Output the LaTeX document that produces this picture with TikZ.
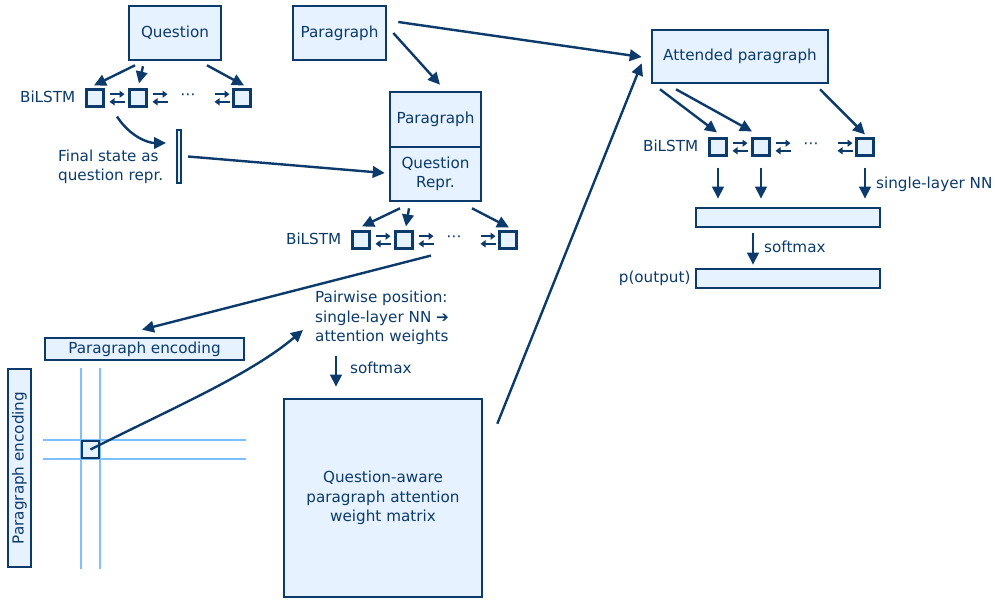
\documentclass[tikz,border=0pt]{standalone}
\usepackage{fontspec}
\setmainfont{DejaVu Sans}
\usetikzlibrary{arrows.meta,calc}
\definecolor{navy}{HTML}{0B3A6B}
\definecolor{lfill}{HTML}{E6F2FF}
\definecolor{lblue}{HTML}{80BFFF}
\tikzset{
  lrarr/.pic={
    \draw[navy, line width=2pt, -{Triangle[length=5pt,width=7pt]}] (-7.5,-3.8) -- (7.5,-3.8);
    \draw[navy, line width=2pt, -{Triangle[length=5pt,width=7pt]}] (7.5,3.8) -- (-7.5,3.8);
  }
}
\newcommand\lstmrow[3]{%
  \node[cell] (#1a) at (#2,#3) {};
  \node[cell] (#1b) at (#2+43,#3) {};
  \node[cell] (#1c) at (#2+147,#3) {};
  \pic at (#2+22,#3) {lrarr};
  \pic at (#2+65,#3) {lrarr};
  \pic at (#2+127,#3) {lrarr};
  \node[lab] (#1d) at (#2+93,#3-1) {⋯};
  \node[lab1, anchor=east] (#1l) at ($(#1a.west)+(-10,0)$) {BiLSTM};
}
\begin{document}
\begin{tikzpicture}[x=1pt,y=-1pt,
  font=\fontsize{15.2}{19.5}\selectfont, text=navy,
  box/.style={draw=navy, fill=lfill, line width=2.6pt, inner sep=0pt, text=navy},
  cell/.style={box, minimum size=16.5pt},
  arr/.style={draw=navy, line width=2.4pt, -{Triangle[length=12pt,width=11.5pt]}},
  lab/.style={inner sep=0pt, text=navy},
  lab1/.style={lab, text height=11pt, text depth=3pt},
  gridl/.style={draw=lblue, line width=2.3pt}]
\useasboundingbox (0,0) rectangle (995,600);

% ---- top boxes
\node[box, minimum width=92pt, minimum height=54pt] (q) at (175,33) {Question};
\node[box, minimum width=93pt, minimum height=54pt] (p) at (339.5,33) {Paragraph};
\node[box, minimum width=176pt, minimum height=53pt] (att) at (740,56.5) {Attended paragraph};
\node[box, minimum width=91pt, minimum height=55pt] (p2) at (435.5,119.5) {Paragraph};
\node[box, minimum width=91pt, minimum height=54pt, align=center] (qr) at (435.5,174) {Question\\Repr.};

% ---- BiLSTM rows
\lstmrow{l}{95}{98}
\lstmrow{m}{361}{240}
\lstmrow{r}{718}{147}

% ---- final state
\node[box, line width=2pt, minimum width=4pt, minimum height=53pt] (fin) at (179,156.5) {};
\node[lab, align=left, anchor=west] (fint) at (58,167) {Final state as\\question repr.};

% ---- grid
\draw[gridl] (81,368) -- (81,569);
\draw[gridl] (100,368) -- (100,569);
\draw[gridl] (43,440) -- (246,440);
\draw[gridl] (43,459) -- (246,459);
\node[draw=navy, fill=lfill, line width=2.4pt, minimum size=17pt, inner sep=0pt] (cellq) at (90.5,449.5) {};
\node[box, minimum width=199pt, minimum height=22pt] (enc) at (144.5,349) {Paragraph encoding};
\node[box, minimum width=198pt, minimum height=23pt, rotate=90] (enc2) at (19.5,468) {Paragraph encoding};

% ---- matrix
\node[lab, align=left, anchor=west] (pw) at (315,318) {Pairwise position:\\single-layer NN ➔\\attention weights};
\node[lab1, anchor=west] (smx) at (350,369) {softmax};
\node[box, minimum width=198pt, minimum height=198pt, align=center] (mat) at (383,498) {Question-aware\\paragraph attention\\weight matrix};

% ---- right side
\node[box, minimum width=184pt, minimum height=19pt] (b1) at (788,217.5) {};
\node[box, minimum width=184pt, minimum height=19pt] (b2) at (788,278.5) {};
\node[lab1, anchor=west] (snn) at (876,184) {single-layer NN};
\node[lab1, anchor=west] (smx2) at (764,248) {softmax};
\node[lab1, anchor=east] (pout) at ($(b2.west)+(-4,0)$) {p(output)};

% ---- connectors
\draw[arr] ($(q.south)+(-40,4)$) -- ($(la.north)+(-1,-3)$);
\draw[arr] ($(q.south)+(-32,5)$) -- ($(lb.north)+(1,-5)$);
\draw[arr] ($(q.south)+(32,4)$) -- ($(lc.north)+(2,-3)$);
\draw[arr] ($(la.south)+(22,9)$) .. controls +(13,20) and +(-18,0) .. ($(fin.west)+(-10,-13.5)$);
\draw[arr] ($(fin.east)+(6,0)$) -- ($(qr.west)+(-4,-1)$);
\draw[arr] ($(p.east)+(6,0)$) -- ($(p2.north)+(4.5,-6)$);
\draw[arr] ($(p.east)+(11,-11)$) -- ($(att.west)+(-9,0.5)$);
\draw[arr] ($(mat.north east)+(14,26)$) -- ($(att.south west)+(-9,-21)$);
\draw[arr] ($(qr.south)+(-35.5,6)$) -- ($(ma.north)+(1,-4)$);
\draw[arr] ($(qr.south)+(-26.5,6)$) -- ($(mb.north)+(2,-4)$);
\draw[arr] ($(qr.south)+(36.5,6)$) -- ($(mc.north)+(1,-3)$);
\draw[arr] ($(mb.south)+(27,6)$) -- ($(enc.north)+(-2.5,-7)$);
\draw[arr] (cellq.center) .. controls +(79,-40) and +(-53,45) .. ($(pw.west)+(-12,12)$);
\draw[arr] ($(mat.north)+(-47,-42)$) -- ($(mat.north)+(-47,-11)$);
\draw[arr] ($(att.south)+(-80,5)$) -- ($(ra.north)+(-1,-5)$);
\draw[arr] ($(att.south)+(-64,5)$) -- ($(rb.north)+(-9,-6)$);
\draw[arr] ($(att.south)+(80,5)$) -- ($(rc.north)+(0,-3)$);
\draw[arr] ($(ra.south)+(0,11)$) -- ($(ra.south |- b1.north)+(0,-8)$);
\draw[arr] ($(rb.south)+(0,11)$) -- ($(rb.south |- b1.north)+(0,-8)$);
\draw[arr] ($(rc.south)+(0,11)$) -- ($(rc.south |- b1.north)+(0,-8)$);
\draw[arr] ($(b1.south)+(-35,5)$) -- ($(b2.north)+(-35,-3)$);
\end{tikzpicture}
\end{document}
